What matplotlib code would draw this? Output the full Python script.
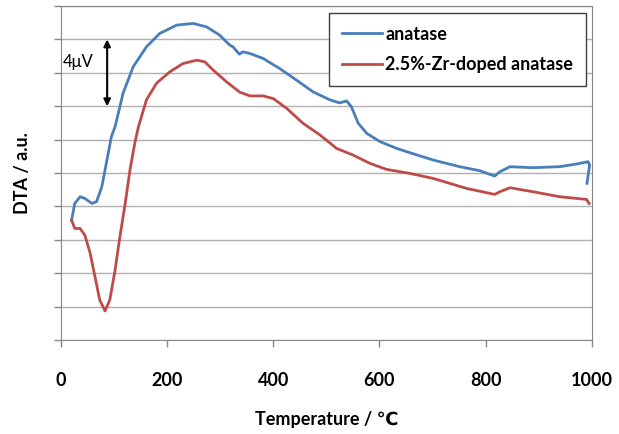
import numpy as np
import matplotlib
matplotlib.use("Agg")
import matplotlib.pyplot as plt

plt.rcParams['font.family'] = ['Lato', 'DejaVu Sans']

# anatase (blue), temperature in degC and DTA signal in arbitrary units
t_anatase = [20, 26, 36, 45, 58, 67, 77, 83, 89, 95, 102, 117, 136, 161, 186, 218, 249,
             274, 299, 318, 324, 336, 343, 356, 381, 412, 444, 475, 507, 525, 538, 547,
             560, 576, 601, 632, 657, 701, 751, 789, 817, 827, 846, 889, 940, 971, 993,
             996, 991]
y_anatase = [3.59, 4.09, 4.29, 4.24, 4.09, 4.14, 4.59, 5.09, 5.59, 6.09, 6.39, 7.39, 8.18,
             8.78, 9.18, 9.43, 9.48, 9.38, 9.13, 8.83, 8.78, 8.56, 8.63, 8.58, 8.43, 8.13,
             7.78, 7.43, 7.19, 7.10, 7.16, 6.99, 6.49, 6.19, 5.94, 5.74, 5.61, 5.39, 5.19,
             5.07, 4.91, 5.04, 5.19, 5.16, 5.19, 5.27, 5.34, 5.24, 4.69]

# 2.5%-Zr-doped anatase (red)
t_doped = [20, 26, 36, 45, 55, 64, 73, 83, 92, 102, 111, 121, 130, 139, 146, 161, 180,
           205, 230, 256, 271, 287, 312, 337, 356, 381, 400, 425, 456, 488, 519, 550,
           582, 613, 657, 701, 764, 817, 827, 846, 889, 940, 990, 995]
y_doped = [3.59, 3.34, 3.34, 3.14, 2.60, 1.90, 1.20, 0.87, 1.20, 2.10, 3.09, 4.09, 5.09,
           5.89, 6.39, 7.19, 7.69, 8.03, 8.28, 8.38, 8.33, 8.08, 7.73, 7.42, 7.31, 7.31,
           7.23, 6.94, 6.49, 6.14, 5.74, 5.54, 5.29, 5.11, 4.99, 4.84, 4.54, 4.36, 4.44,
           4.56, 4.44, 4.29, 4.21, 4.09]

labels = ['anatase', '2.5%-Zr-doped anatase']
colors = ['#4A7EBB', '#BE4B48']

fig = plt.figure(figsize=(6.19, 4.34), dpi=100)
ax = fig.add_axes([0.0985, 0.2166, 0.8575, 0.7694])

ax.plot(t_anatase, y_anatase, color=colors[0], lw=2, label=labels[0])
ax.plot(t_doped, y_doped, color=colors[1], lw=2, label=labels[1])

ax.set_xlim(0, 1000)
ax.set_ylim(0, 10)
ax.set_xticks([0, 200, 400, 600, 800, 1000])
ax.set_yticks(np.arange(0, 11, 1))
ax.set_yticklabels([])
ax.grid(axis='y', color='#B0B0B0', lw=1)
ax.set_axisbelow(True)
for s in ax.spines.values():
    s.set_color('#868686')
ax.tick_params(axis='both', color='#868686', length=5, width=1)
ax.tick_params(axis='x', labelsize=13, pad=18)
for lab in ax.get_xticklabels():
    lab.set_fontweight('bold')

ax.set_xlabel('Temperature / \u2103', fontsize=13, fontweight='bold', labelpad=16)
ax.set_ylabel('DTA / a.u.', fontsize=13, fontweight='bold', labelpad=13)

# 4 uV scale arrow
ax.annotate('', xy=(87, 9.0), xytext=(87, 7.0),
            arrowprops=dict(arrowstyle='<|-|>', color='black', lw=1.5,
                            mutation_scale=10, shrinkA=0, shrinkB=0))
ax.text(4, 8.32, '4\u03bcV', fontsize=12, va='center', ha='left')

leg = ax.legend(loc='upper right', bbox_to_anchor=(0.989, 0.979), borderaxespad=0,
                fancybox=False, framealpha=1, edgecolor='#404040', fontsize=13,
                handlelength=2.2, handletextpad=0.2, labelspacing=0.75, borderpad=0.7)
for t in leg.get_texts():
    t.set_fontweight('bold')

fig.savefig('out.png', dpi=100)
